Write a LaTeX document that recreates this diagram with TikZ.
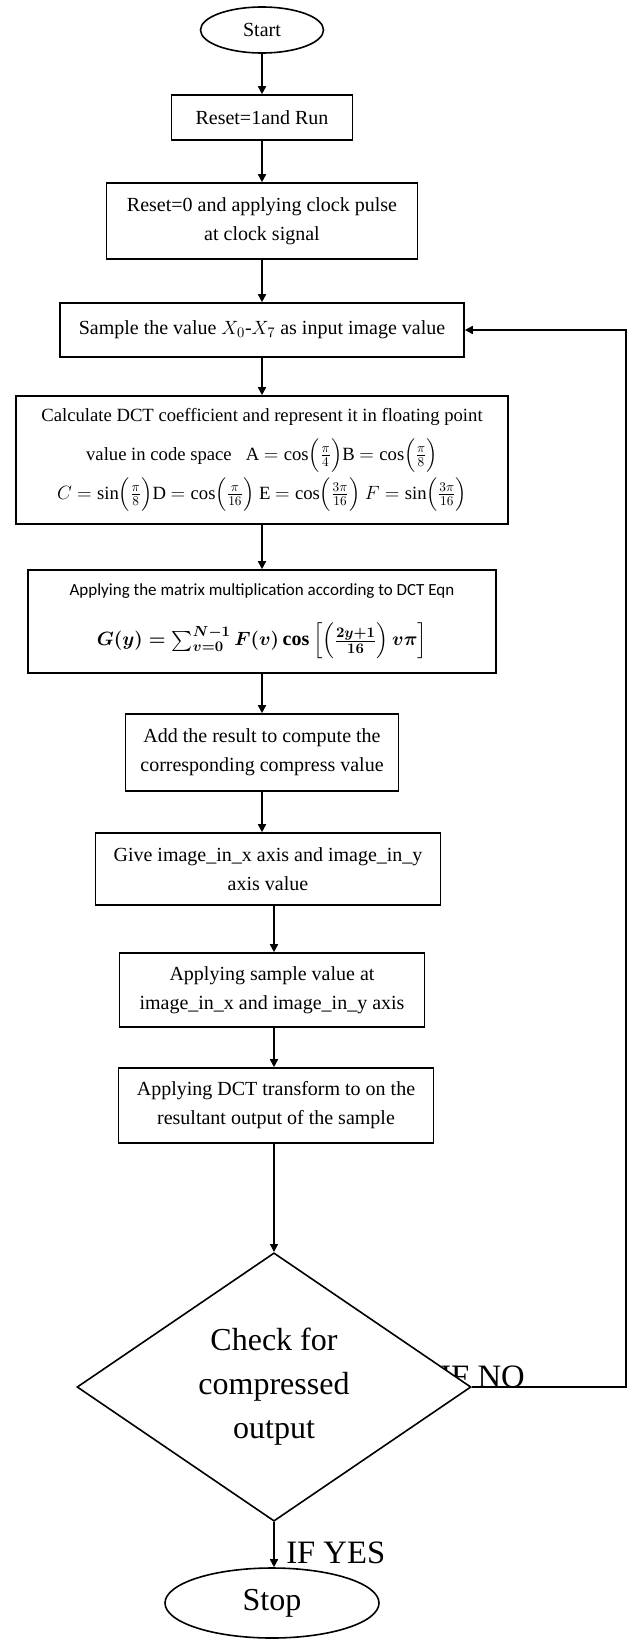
\documentclass[tikz,border=0pt]{standalone}
\usepackage{amsmath}
\usepackage{amssymb}
\usepackage{fontspec}
\usepackage{tikz}
\usetikzlibrary{shapes.geometric, arrows.meta, positioning, backgrounds}
\setmainfont{Liberation Serif}
\newfontfamily\calibri{Carlito}

\begin{document}
\begin{tikzpicture}[x=0.75pt, y=-0.75pt,
    box/.style={draw, line width=1.2pt, align=center, inner sep=2pt, font=\fontsize{15}{21.75}\selectfont},
    term/.style={draw, ellipse, line width=1.2pt, inner sep=0pt, font=\fontsize{15}{18}\selectfont},
    lbl/.style={inner sep=0pt, font=\fontsize{24.5}{28}\selectfont},
    arr/.style={line width=1.2pt, -{Triangle[width=6pt,length=6pt]}}]
    \useasboundingbox (0,0) rectangle (629,1641);

    % Terminals and process blocks
    \node[term, minimum width=92.25pt, minimum height=34.5pt] (start) at (262,30) {Start};
    \node[box, minimum width=135.75pt, minimum height=33.75pt] (run) at (262,117.5) {Reset=1and Run};
    \node[box, minimum width=233.25pt, minimum height=57pt] (reset) at (262,221) {Reset=0 and applying clock pulse\\at clock signal};
    \node[box, minimum width=303pt, minimum height=40.5pt] (sample) at (262,330) {Sample the value $X_0$-$X_7$ as input image value};
    \node[box, minimum width=369pt, minimum height=96pt, font=\fontsize{14}{29}\selectfont] (coef) at (262,460) {Calculate DCT coefficient and represent it in floating point\\value in code space \ \ A $=\cos\Bigl(\frac{\pi}{4}\Bigr)$B $=\cos\Bigl(\frac{\pi}{8}\Bigr)$\\$C=\sin\Bigl(\frac{\pi}{8}\Bigr)$D $=\cos\Bigl(\frac{\pi}{16}\Bigr)$ E $=\cos\Bigl(\frac{3\pi}{16}\Bigr)$ $F=\sin\Bigl(\frac{3\pi}{16}\Bigr)$};
    \node[box, minimum width=351pt, minimum height=77.25pt] (matmul) at (262,621.5) {{\calibri\fontsize{12.75}{15}\selectfont Applying the matrix multiplication according to DCT Eqn}\\[16pt]{\boldmath$G(y)=\sum_{v=0}^{N-1}F(v)\cos\left[\left(\frac{2y+1}{16}\right)v\pi\right]$}};
    \node[box, minimum width=204.75pt, minimum height=57.75pt] (add) at (262,752.5) {Add the result to compute the\\corresponding compress value};
    \node[box, minimum width=258.75pt, minimum height=54pt] (give) at (268,869) {Give image\_in\_x axis and image\_in\_y\\axis value};
    \node[box, minimum width=228.75pt, minimum height=55.5pt] (apply) at (272,990) {Applying sample value at\\image\_in\_x and image\_in\_y axis};
    \node[box, minimum width=236.25pt, minimum height=56.25pt] (dct) at (276,1105.5) {Applying DCT transform to on the\\resultant output of the sample};

    % Decision
    \node[draw, diamond, line width=1.2pt, fill=white, inner sep=0pt, minimum width=295.5pt, minimum height=199.5pt, align=center, font=\fontsize{24}{33}\selectfont] (chk) at (274,1387) {Check for\\compressed\\output};
    \node[term, minimum width=160.5pt, minimum height=52.5pt, font=\fontsize{24}{28}\selectfont] (stop) at (272,1603) {Stop};
    \coordinate (back) at (626,1387);

    % Labels
    \begin{scope}[on background layer]
        \node[lbl, anchor=base east] (no) at (525,1387) {IF NO};
    \end{scope}
    \node[lbl, anchor=base west] (yes) at (286,1563) {IF YES};

    % Arrows
    \draw[arr] (start) -- (run);
    \draw[arr] (run) -- (reset);
    \draw[arr] (reset) -- (sample);
    \draw[arr] (sample) -- (coef);
    \draw[arr] (coef) -- (matmul);
    \draw[arr] (matmul) -- (add);
    \draw[arr] (add) -- (add |- give.north);
    \draw[arr] (give.south -| chk) -- (apply.north -| chk);
    \draw[arr] (apply.south -| chk) -- (dct.north -| chk);
    \draw[arr] (dct.south -| chk) -- (chk.north);
    \draw[arr] (chk.south) -- (chk.south |- stop.north);
    \draw[arr] (chk.east) -- (back) |- (sample.east);
\end{tikzpicture}
\end{document}
